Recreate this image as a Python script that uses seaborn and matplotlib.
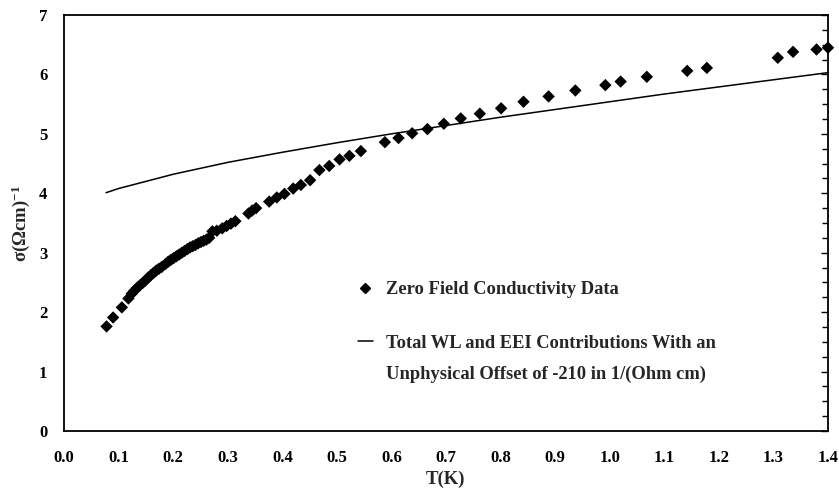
import matplotlib
matplotlib.use("Agg")
import matplotlib.pyplot as plt
import numpy as np
import pandas as pd
import seaborn as sns
from matplotlib.lines import Line2D
from matplotlib.ticker import MultipleLocator, FormatStrFormatter

# Zero-field conductivity measurements
temperature = [
    0.078, 0.090, 0.106, 0.118, 0.124, 0.129, 0.134, 0.139, 0.144, 0.149,
    0.154, 0.159, 0.164, 0.169, 0.174, 0.179, 0.186, 0.191, 0.196, 0.201,
    0.206, 0.211, 0.216, 0.221, 0.226, 0.231, 0.236, 0.241, 0.246, 0.251,
    0.256, 0.261, 0.266, 0.272, 0.280, 0.290, 0.298, 0.306, 0.314, 0.338,
    0.345, 0.352, 0.376, 0.390, 0.404, 0.420, 0.434, 0.451, 0.468, 0.486,
    0.505, 0.523, 0.544, 0.588, 0.613, 0.638, 0.666, 0.696, 0.727, 0.762,
    0.801, 0.842, 0.888, 0.937, 0.992, 1.020, 1.068, 1.142, 1.178, 1.308,
    1.336, 1.379, 1.400,
]
conductivity = [
    1.76, 1.91, 2.08, 2.23, 2.31, 2.36, 2.41, 2.45, 2.49, 2.53,
    2.58, 2.62, 2.66, 2.70, 2.73, 2.76, 2.81, 2.85, 2.88, 2.91,
    2.94, 2.97, 3.00, 3.03, 3.06, 3.09, 3.11, 3.13, 3.16, 3.18,
    3.20, 3.22, 3.25, 3.36, 3.37, 3.41, 3.45, 3.49, 3.53, 3.66,
    3.71, 3.75, 3.86, 3.93, 3.99, 4.08, 4.14, 4.22, 4.39, 4.46,
    4.57, 4.63, 4.71, 4.86, 4.93, 5.01, 5.08, 5.17, 5.26, 5.34,
    5.43, 5.54, 5.63, 5.73, 5.82, 5.88, 5.96, 6.06, 6.11, 6.28,
    6.38, 6.42, 6.45,
]

# Weak localisation + electron-electron interaction model curve
model_temperature = [0.077, 0.10, 0.125, 0.15, 0.20, 0.30, 0.40, 0.50,
                     0.60, 0.70, 0.80, 0.90, 1.00, 1.10, 1.20, 1.30, 1.40]
model_conductivity = [4.01, 4.08, 4.14, 4.20, 4.32, 4.52, 4.69, 4.85,
                      5.00, 5.14, 5.28, 5.41, 5.54, 5.67, 5.79, 5.91, 6.03]

data_label = "Zero Field Conductivity Data"
model_label_lines = ["Total WL and EEI Contributions With an",
                     "Unphysical Offset of -210 in 1/(Ohm cm)"]

sns.set_style("white")
plt.rcParams["font.family"] = ["Liberation Serif", "DejaVu Serif"]
plt.rcParams["font.weight"] = "bold"
plt.rcParams["mathtext.fontset"] = "custom"
plt.rcParams["mathtext.rm"] = "Liberation Serif:bold"
plt.rcParams["mathtext.it"] = "Liberation Serif:bold"
plt.rcParams["mathtext.bf"] = "Liberation Serif:bold"

W, H = 839, 496
fig = plt.figure(figsize=(W / 100, H / 100), dpi=100)
ax = fig.add_axes([64 / W, 65 / H, 764 / W, 416 / H])

measured = pd.DataFrame({"T": temperature, "sigma": conductivity})
model = pd.DataFrame({"T": model_temperature, "sigma": model_conductivity})

sns.lineplot(data=model, x="T", y="sigma", ax=ax, color="black",
             linewidth=1.1, estimator=None, sort=False)
sns.scatterplot(data=measured, x="T", y="sigma", ax=ax, marker="D", s=40,
                color="black", edgecolor="none", linewidth=0, zorder=3,
                clip_on=False)

ax.set_xlim(0, 1.4)
ax.set_ylim(0, 7)
ax.xaxis.set_major_locator(MultipleLocator(0.1))
ax.xaxis.set_minor_locator(MultipleLocator(0.05))
ax.xaxis.set_major_formatter(FormatStrFormatter("%.1f"))
ax.yaxis.set_major_locator(MultipleLocator(1))
ax.yaxis.set_minor_locator(MultipleLocator(0.25))
ax.yaxis.set_major_formatter(FormatStrFormatter("%d"))

ax.tick_params(axis="both", which="both", direction="in", color="black",
               width=1.0, labelsize=12, labelcolor="black")
ax.tick_params(axis="both", which="major", length=5)
ax.tick_params(axis="both", which="minor", length=4)
ax.tick_params(axis="y", which="both", right=True, pad=12)
ax.tick_params(axis="x", which="both", top=False, pad=14)
for lab in ax.get_xticklabels() + ax.get_yticklabels():
    lab.set_fontweight("bold")

for side in ["left", "right", "top", "bottom"]:
    ax.spines[side].set_visible(True)
    ax.spines[side].set_color("black")
    ax.spines[side].set_linewidth(1.3)

ax.set_xlabel("T(K)", fontsize=13.5, fontweight="bold", labelpad=3)
ax.set_ylabel(r"σ(Ωcm)$^{-1}$", fontsize=13.5, fontweight="bold", labelpad=5)

handles = [
    Line2D([], [], marker="D", linestyle="none", color="black", markersize=5.5),
    Line2D([], [], color="black", linewidth=1.1),
]
leg = ax.legend(handles, [data_label, model_label_lines[0]],
                loc="upper left", bbox_to_anchor=(358 / W, 1 - 281 / H),
                bbox_transform=fig.transFigure, frameon=False, borderpad=0,
                borderaxespad=0, handlelength=0.81, handletextpad=0.7,
                labelspacing=2.0,
                prop={"family": "Liberation Serif", "weight": "bold", "size": 13.3})
fig.text(386 / W, 1 - 374 / H, model_label_lines[1], ha="left", va="center",
         fontsize=13.3, fontweight="bold", family="Liberation Serif")

fig.savefig("out.png", dpi=100, facecolor="white")
